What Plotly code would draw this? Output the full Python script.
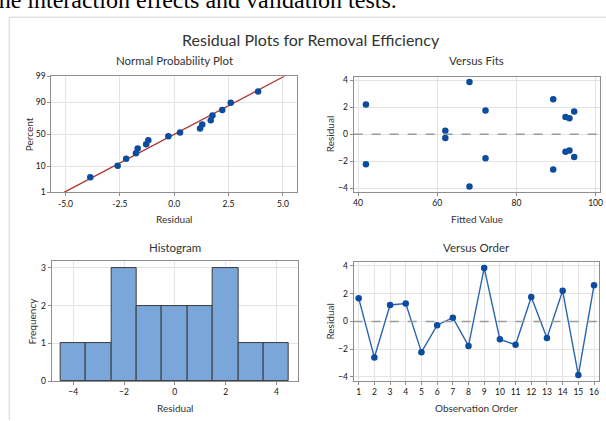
import plotly.graph_objects as go
from statistics import NormalDist

# ---------------- data ----------------
observation_order = list(range(1, 17))
residuals = [1.68, -2.60, 1.19, 1.29, -2.21, -0.27, 0.27, -1.76,
             3.86, -1.29, -1.68, 1.76, -1.19, 2.21, -3.86, 2.60]
fitted_values = [94.6, 89.3, 93.4, 92.4, 42.0, 62.05, 62.05, 72.2,
                 68.15, 92.4, 94.6, 72.2, 93.4, 42.0, 68.15, 89.3]
npp_x_ticks = [-5.0, -2.5, 0.0, 2.5, 5.0]
npp_pct_ticks = [1, 10, 50, 90, 99]
fits_x_ticks = [40, 60, 80, 100]
resid_ticks = [-4, -2, 0, 2, 4]
hist_x_ticks = [-4, -2, 0, 2, 4]
freq_ticks = [0, 1, 2, 3]

W, H = 606, 421
nd = NormalDist()

def px(x):
    return x / W

def py(y):
    return 1 - y / H

# normal probability positions (Benard median ranks)
n = len(residuals)
sorted_res = sorted(residuals)
npp_z = [nd.inv_cdf((i + 1 - 0.3) / (n + 0.4)) for i in range(n)]
mean = sum(residuals) / n
sd = (sum((r - mean) ** 2 for r in residuals) / (n - 1)) ** 0.5
z_lo, z_hi = nd.inv_cdf(0.01), nd.inv_cdf(0.99)

BLUE = "#0B4C9F"
LINEBLUE = "#2A66B0"
FRAME = "#8E8E8E"
GRID = "#E4E4E4"
TICKFONT = dict(family="Lato", size=8.5, color="#111111")
FONT = "Lato"

fig = go.Figure()

# Normal probability plot
fig.add_trace(go.Scatter(x=[mean + sd * z_lo, mean + sd * z_hi], y=[z_lo, z_hi],
                         mode="lines", line=dict(color="#B03A35", width=1.3),
                         xaxis="x", yaxis="y", hoverinfo="skip"))
fig.add_trace(go.Scatter(x=sorted_res, y=npp_z, mode="markers",
                         marker=dict(color=BLUE, size=6.5),
                         xaxis="x", yaxis="y"))
# Versus fits
fig.add_trace(go.Scatter(x=fitted_values, y=residuals, mode="markers",
                         marker=dict(color=BLUE, size=6.5),
                         xaxis="x2", yaxis="y2"))
# Histogram
fig.add_trace(go.Histogram(x=residuals, xbins=dict(start=-4.5, end=4.5, size=1),
                           marker=dict(color="#7BA6DA", line=dict(color="#3A3A3A", width=1)),
                           xaxis="x3", yaxis="y3"))
# Versus order
fig.add_trace(go.Scatter(x=observation_order, y=residuals, mode="lines+markers",
                         line=dict(color=LINEBLUE, width=1.4),
                         marker=dict(color=BLUE, size=6.5),
                         xaxis="x4", yaxis="y4"))

def axis(domain, rng, tickvals, ticktext=None, anchor=None):
    d = dict(domain=domain, range=rng, tickvals=tickvals, showgrid=True, gridcolor=GRID,
             gridwidth=1, zeroline=False, showline=True, mirror=True, linecolor=FRAME,
             linewidth=1, ticks="outside", ticklen=3, tickcolor=FRAME,
             tickfont=TICKFONT, anchor=anchor, fixedrange=True)
    if ticktext is not None:
        d["ticktext"] = ticktext
    return d

npp_xd = [px(50.7), px(298)]
npp_yd = [py(192), py(73)]
fit_xd = [px(355), px(603.3)]
fit_yd = [py(191.7), py(73.3)]
his_xd = [px(51), px(299)]
his_yd = [py(385.3), py(262.3)]
ord_xd = [px(355), px(601.7)]
ord_yd = [py(385), py(263.3)]

fig.update_layout(
    width=W, height=H, margin=dict(l=0, r=0, t=0, b=0),
    paper_bgcolor="white", plot_bgcolor="white", showlegend=False, bargap=0,
    xaxis=axis(npp_xd, [-5.65, 5.65], npp_x_ticks, [f"{v:.1f}" for v in npp_x_ticks], "y"),
    yaxis=axis(npp_yd, [z_lo, z_hi], [nd.inv_cdf(p / 100) for p in npp_pct_ticks],
               [str(p) for p in npp_pct_ticks], "x"),
    xaxis2=axis(fit_xd, [38.9, 101.2], fits_x_ticks, None, "y2"),
    yaxis2=axis(fit_yd, [-4.27, 4.27], resid_ticks, None, "x2"),
    xaxis3=axis(his_xd, [-4.85, 4.85], hist_x_ticks, None, "y3"),
    yaxis3=axis(his_yd, [0, 3.18], freq_ticks, None, "x3"),
    xaxis4=axis(ord_xd, [0.68, 16.3], observation_order, None, "y4"),
    yaxis4=axis(ord_yd, [-4.28, 4.28], resid_ticks, None, "x4"),
)

# dashed zero reference lines
for xa, ya in [("x2", "y2"), ("x4", "y4")]:
    fig.add_shape(type="line", xref=f"{xa} domain", yref=ya, x0=0, x1=1, y0=0, y1=0,
                  line=dict(color="#9A9A9A", width=1.5, dash="dash"))

# outer frame of the figure screenshot
fig.add_shape(type="line", xref="paper", yref="paper", x0=px(8.3), x1=1.01,
              y0=py(12.5), y1=py(12.5), line=dict(color="#D4D4D4", width=1))
fig.add_shape(type="line", xref="paper", yref="paper", x0=px(8.3), x1=px(8.3),
              y0=py(12.5), y1=-0.01, line=dict(color="#D4D4D4", width=1))

def ann(text, x, y, size, angle=0, color="#333333", family=FONT):
    fig.add_annotation(text=text, xref="paper", yref="paper", x=px(x), y=py(y),
                       xanchor="center", yanchor="middle", showarrow=False,
                       textangle=angle, font=dict(family=family, size=size, color=color))

# cropped text of the surrounding document (cut off at the top in the reference too)
fig.add_annotation(text="the interaction effects and validation tests.", xref="paper", yref="paper",
                   x=px(-11), y=py(-5), xanchor="left", yanchor="middle", showarrow=False,
                   font=dict(family="Liberation Serif", size=24, color="#000000"))

ann("Residual Plots for Removal Efficiency", 312, 35, 16)
ann("Normal Probability Plot", 175, 57, 11.5)
ann("Versus Fits", 479, 57, 11.5)
ann("Histogram", 175, 248, 11.5)
ann("Versus Order", 479, 248, 11.5)

ann("Residual", 174, 219, 10)
ann("Fitted Value", 479, 219, 10)
ann("Residual", 175, 413, 10)
ann("Observation Order", 479, 413, 10)
ann("Percent", 28.5, 132, 10, -90)
ann("Residual", 331.5, 132, 10, -90)
ann("Frequency", 31.5, 324, 10, -90)
ann("Residual", 331.5, 324, 10, -90)

fig.write_html("out.html")
